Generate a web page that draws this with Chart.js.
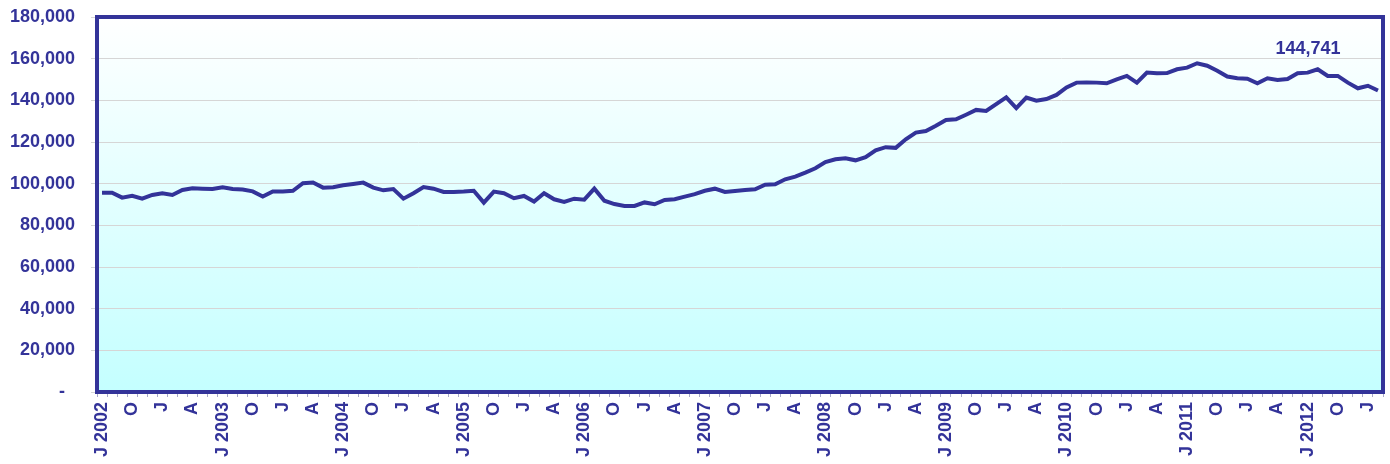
<!DOCTYPE html>
<html>
<head>
<meta charset="utf-8">
<script src="https://cdn.jsdelivr.net/npm/chart.js@4"></script>
<style>
  html, body { margin: 0; padding: 0; background: #ffffff; }
  #wrap { width: 1390px; height: 464px; position: relative; }
</style>
</head>
<body>
<div id="wrap"><canvas id="chart"></canvas></div>
<script>
'use strict';

// monthly values, Jul 2002 .. Feb 2013
let startYear = 2002;
let startMonth = 6; // July (0-based)
let values = [
  95700, 95700, 93300, 94200, 92800, 94600, 95400, 94600, 97000, 97800,
  97600, 97400, 98300, 97400, 97200, 96300, 93800, 96300, 96300, 96600,
  100200, 100600, 98100, 98300, 99200, 99800, 100500, 98100, 96800, 97400,
  92800, 95400, 98400, 97600, 96000, 96000, 96200, 96600, 90900, 96200,
  95400, 93000, 94100, 91400, 95400, 92500, 91200, 92800, 92300, 97600,
  91800, 90200, 89300, 89300, 91000, 90100, 92200, 92500, 93800, 95000,
  96600, 97600, 96000, 96500, 97000, 97300, 99500, 99700, 102100, 103400,
  105300, 107400, 110400, 111700, 112200, 111200, 112700, 116000, 117500, 117200,
  121300, 124500, 125300, 127800, 130600, 130900, 133100, 135400, 134900, 138200,
  141400, 136300, 141300, 139800, 140600, 142600, 146200, 148500, 148600, 148500,
  148200, 150100, 151700, 148500, 153300, 153000, 153100, 154900, 155700, 157800,
  156600, 154200, 151400, 150600, 150400, 148200, 150600, 149800, 150200, 153000,
  153300, 154900, 151700, 151700, 148500, 145800, 147000, 144741
];
let monthNames = ['Jan', 'Feb', 'Mar', 'Apr', 'May', 'Jun', 'Jul', 'Aug', 'Sep', 'Oct', 'Nov', 'Dec'];
let yTicks = [0, 20000, 40000, 60000, 80000, 100000, 120000, 140000, 160000, 180000];
let lastLabel = '144,741';

let navy = '#333399';

let categories = [];
let tickLabels = [];
for (let i = 0; i < values.length; i++) {
  let m = (startMonth + i) % 12;
  let y = startYear + Math.floor((startMonth + i) / 12);
  categories.push(monthNames[m] + ' ' + y);
  if (m === 6) tickLabels.push('J ' + y);
  else if (m === 9) tickLabels.push('O');
  else if (m === 0) tickLabels.push('J');
  else if (m === 3) tickLabels.push('A');
  else tickLabels.push('');
}

Chart.defaults.font.family = "'Liberation Sans', Arial, sans-serif";

// no extra room for overhanging labels
function noPad(axis) {
  axis.paddingTop = 0;
  axis.paddingBottom = 0;
  axis.paddingLeft = 0;
  axis.paddingRight = 0;
}

const plotDecor = {
  id: 'plotDecor',
  beforeDraw(chart) {
    const { ctx, chartArea: a } = chart;
    ctx.save();
    const g = ctx.createLinearGradient(0, a.top, 0, a.bottom);
    g.addColorStop(0, '#ffffff');
    g.addColorStop(1, '#c4ffff');
    ctx.fillStyle = g;
    ctx.fillRect(a.left, a.top, a.right - a.left, a.bottom - a.top);
    ctx.restore();
  },
  afterDraw(chart) {
    const { ctx, chartArea: a } = chart;
    ctx.save();
    ctx.strokeStyle = navy;
    ctx.lineWidth = 4;
    ctx.strokeRect(a.left, a.top, a.right - a.left, a.bottom - a.top);

    // value label for the last point
    const meta = chart.getDatasetMeta(0);
    const pt = meta.data[meta.data.length - 1];
    ctx.fillStyle = navy;
    ctx.font = "bold 18px 'Liberation Sans', Arial, sans-serif";
    ctx.textAlign = 'center';
    ctx.textBaseline = 'middle';
    ctx.fillText(lastLabel, pt.x - 70, pt.y - 41);
    ctx.restore();
  }
};

let canvasElem = document.getElementById('chart');

function renderChart() {
  const data = {
    labels: categories,
    datasets: [
      {
        label: 'Value',
        data: values,
        borderColor: navy,
        borderWidth: 4,
        pointRadius: 0,
        tension: 0,
        fill: false
      }
    ]
  };
  let config = {
    type: 'line',
    data: data,
    options: {
      responsive: true,
      maintainAspectRatio: false,
      animation: false,
      layout: {
        autoPadding: false,
        padding: { top: 17, right: 7, left: 0, bottom: 0 }
      },
      plugins: {
        legend: { display: false },
        tooltip: { enabled: false }
      },
      scales: {
        x: {
          type: 'category',
          offset: true,
          afterFit(axis) { axis.height = 72; noPad(axis); },
          border: { display: false },
          grid: {
            offset: true,
            drawOnChartArea: false,
            drawTicks: true,
            tickLength: 5,
            color: '#a8a8c8'
          },
          ticks: {
            autoSkip: false,
            maxRotation: 90,
            minRotation: 90,
            padding: 5,
            color: navy,
            font: { size: 18, weight: 'bold' },
            callback: (val, idx) => tickLabels[idx]
          }
        },
        y: {
          min: 0,
          max: 180000,
          afterFit(axis) { axis.width = 97; noPad(axis); },
          afterBuildTicks(axis) { axis.ticks = yTicks.map(v => ({ value: v })); },
          border: { display: false },
          grid: {
            color: '#d6d6d6',
            lineWidth: 1,
            tickLength: 6
          },
          ticks: {
            padding: 16,
            color: navy,
            font: { size: 18, weight: 'bold' },
            callback: v => v === 0 ? '-  ' : v.toLocaleString('en-US')
          }
        }
      }
    },
    plugins: [plotDecor]
  };
  let myChart = new Chart(canvasElem, config);
}

renderChart();
</script>
</body>
</html>
